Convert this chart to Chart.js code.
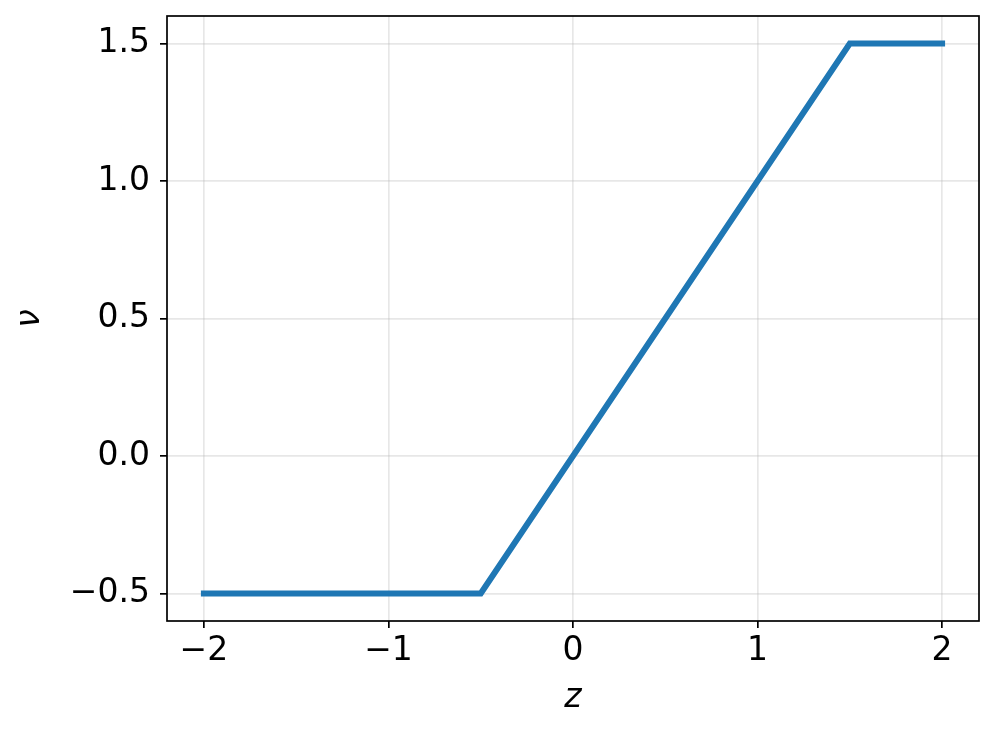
<!DOCTYPE html>
<html lang="en">
<head>
    <meta charset="UTF-8">
    <title>Clipped line</title>
    <script src="https://cdn.jsdelivr.net/npm/chart.js"></script>
    <style>
        body { margin: 0; background: #ffffff; }
        #wrap { width: 996px; height: 736px; }
    </style>
</head>
<body>
    <div id="wrap"><canvas id="chart" width="996" height="736"></canvas></div>

    <script>
        // vertices of the clipped line
        const zValues = [-2, -0.5, 1.5, 2];
        const nuValues = [-0.5, -0.5, 1.5, 1.5];
        const xTicks = [-2, -1, 0, 1, 2];
        const yTicks = [-0.5, 0.0, 0.5, 1.0, 1.5];

        const points = zValues.map((z, i) => ({ x: z, y: nuValues[i] }));
        const minus = s => s.replace('-', '\u2212');

        // matplotlib style frame on all four sides
        const frame = {
            id: 'frame',
            afterDatasetsDraw(chart) {
                const a = chart.chartArea, c = chart.ctx;
                c.save();
                c.strokeStyle = '#000';
                c.lineWidth = 1.7;
                c.strokeRect(a.left, a.top, a.right - a.left, a.bottom - a.top);
                c.restore();
            }
        };

        const font = { family: 'DejaVu Sans', size: 33 };
        const titleFont = { family: 'DejaVu Sans', size: 33, style: 'italic' };
        const gridStyle = { color: 'rgba(176,176,176,0.3)', tickColor: '#000', tickLength: 7, lineWidth: 1.7, tickWidth: 1.7 };

        new Chart(document.getElementById('chart'), {
            type: 'scatter',
            data: {
                datasets: [{
                    data: points,
                    showLine: true,
                    borderColor: '#1f77b4',
                    borderWidth: 6,
                    borderCapStyle: 'square',
                    pointRadius: 0,
                    fill: false
                }]
            },
            options: {
                responsive: false,
                animation: false,
                layout: { padding: { top: 16, right: 17, left: 0, bottom: 0 } },
                plugins: { legend: { display: false }, tooltip: { enabled: false } },
                scales: {
                    x: {
                        type: 'linear',
                        min: -2.2,
                        max: 2.2,
                        afterFit(s) { s.height = 115; s.paddingLeft = 0; s.paddingRight = 0; },
                        afterBuildTicks(s) { s.ticks = xTicks.map(v => ({ value: v })); },
                        ticks: {
                            font: font, color: '#000', padding: 4, maxRotation: 0,
                            callback: v => minus(String(v))
                        },
                        grid: gridStyle,
                        border: { display: false },
                        title: {
                            display: true, text: 'z', color: '#000', font: titleFont,
                            padding: { top: 0, bottom: 18 }
                        }
                    },
                    y: {
                        type: 'linear',
                        min: -0.6,
                        max: 1.6,
                        afterFit(s) { s.width = 167; s.paddingTop = 0; s.paddingBottom = 0; },
                        afterBuildTicks(s) { s.ticks = yTicks.map(v => ({ value: v })); },
                        ticks: {
                            font: font, color: '#000', padding: 10,
                            callback: v => minus(v.toFixed(1))
                        },
                        grid: gridStyle,
                        border: { display: false },
                        title: {
                            display: true, text: 'ν', color: '#000', font: titleFont,
                            padding: { top: 11, bottom: 0 }
                        }
                    }
                }
            },
            plugins: [frame]
        });
    </script>
</body>
</html>
